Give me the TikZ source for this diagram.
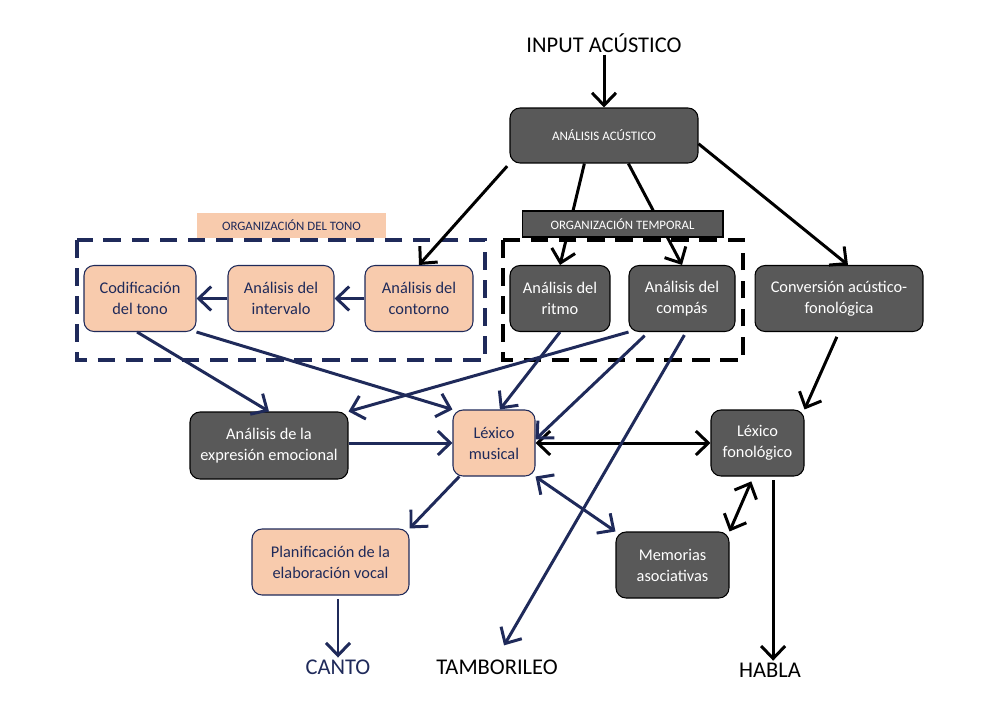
\documentclass[tikz,border=0pt]{standalone}
\usepackage{fontspec}
\setmainfont{Carlito}
\usetikzlibrary{arrows.meta}
\definecolor{navy}{RGB}{31,42,90}
\definecolor{darkbox}{RGB}{89,89,89}
\definecolor{peach}{RGB}{248,203,173}

\begin{document}
\begin{tikzpicture}[x=0.02cm, y=-0.02cm, >={Straight Barb[length=2.5mm,width=4.8mm]},
  dark/.style={draw=black, fill=darkbox, text=white, rounded corners=2mm, line width=0.6pt,
    align=center, inner sep=0pt, minimum height=1.32cm, font=\fontsize{9.3}{12}\selectfont},
  light/.style={draw=navy, fill=peach, text=navy, rounded corners=2mm, line width=0.6pt,
    align=center, inner sep=0pt, minimum height=1.32cm, font=\fontsize{9.3}{12}\selectfont},
  header/.style={inner sep=0pt, font=\fontsize{7.3}{8}\selectfont},
  outtext/.style={inner sep=1pt, font=\fontsize{12.8}{14}\selectfont},
  blk/.style={->, line width=1.7pt},
  nvy/.style={->, line width=1.7pt, draw=navy},
  frame/.style={line width=2.6pt, dash pattern=on 10pt off 6pt}]
  \useasboundingbox (0,0) rectangle (1000,710);

  % entrada y analisis acustico
  \node[outtext] (input) at (604,43) {INPUT ACÚSTICO};
  \node[dark, minimum width=3.76cm, minimum height=1.1cm, font=\fontsize{7.4}{8}\selectfont]
    (acustico) at (604,135.5) {ANÁLISIS ACÚSTICO};
  \draw[blk] (input.south) -- (acustico.north);

  % organizacion temporal (las flechas pasan por debajo del rotulo)
  \draw[frame] (503,240) rectangle (743,360);
  \node[dark, minimum width=2cm] (ritmo) at (560,298.5) {Análisis del\\ritmo};
  \node[dark, minimum width=2.12cm] (compas) at (682,298.5) {Análisis del\\compás};
  \draw[blk] (acustico.235) -- (ritmo.north);
  \draw[blk] (acustico.-49) -- (compas.north);
  \node[header, draw=black, fill=darkbox, text=white, line width=0.6pt,
    minimum width=4.02cm, minimum height=0.52cm] (temporal) at (622.5,224) {ORGANIZACIÓN TEMPORAL};

  % organizacion del tono
  \node[header, fill=peach, text=navy, minimum width=3.78cm, minimum height=0.5cm]
    (tono) at (291.5,225.5) {ORGANIZACIÓN DEL TONO};
  \draw[frame, navy] (77,240) rectangle (485,360);
  \node[light, minimum width=2.24cm] (codif) at (140,298.5) {Codificación\\del tono};
  \node[light, minimum width=2.12cm] (intervalo) at (281,298.5) {Análisis del\\intervalo};
  \node[light, minimum width=2.16cm] (contorno) at (419,298.5) {Análisis del\\contorno};

  % conversion y lexicos
  \node[dark, minimum width=3.36cm] (conversion) at (839,298.5) {Conversión acústico-\\fonológica};
  \node[dark, minimum width=3.16cm, minimum height=1.34cm] (emocional) at (269,445.5)
    {Análisis de la\\expresión emocional};
  \node[light, minimum width=1.64cm] (lexmus) at (494,443) {Léxico\\musical};
  \node[dark, minimum width=1.86cm] (lexfon) at (757.5,443) {Léxico\\fonológico};
  \node[light, minimum width=3.14cm] (planif) at (330.5,562) {Planificación de la\\elaboración vocal};
  \node[dark, minimum width=2.26cm] (memorias) at (672.5,565) {Memorias\\asociativas};

  % salidas
  \node[outtext, text=navy] (canto) at (338,667) {CANTO};
  \node[outtext] (tambor) at (497,667) {TAMBORILEO};
  \node[outtext] (habla) at (770,670) {HABLA};

  % flechas negras
  \draw[blk, shorten <=2pt] (acustico.south west) -- (contorno.north);
  \draw[blk] (acustico.-5) -- (conversion.75);
  \draw[blk, shorten <=3pt] (conversion.south) -- (lexfon.north east);
  \draw[blk, <->] (lexmus.east) -- (lexfon.west);
  \draw[blk, <->, shorten <=3pt] (lexfon.263) -- (memorias.north east);
  \draw[blk, shorten <=2pt] (lexfon.295) -- (lexfon.295 |- habla.north);

  % flechas azules
  \draw[nvy] (contorno.west) -- (intervalo.east);
  \draw[nvy] (intervalo.west) -- (codif.east);
  \draw[nvy] (codif.265) -- (emocional.north);
  \draw[nvy] (codif.south east) -- (lexmus.north west);
  \draw[nvy] (compas.south west) -- (emocional.north east);
  \draw[nvy] (ritmo.south) -- (lexmus.80);
  \draw[nvy, shorten <=3pt] (compas.225) -- (lexmus.5);
  \draw[nvy, shorten <=2pt, shorten >=8pt] (compas.-83) -- (tambor.north);
  \draw[nvy] (lexmus.west -| emocional.east) -- (lexmus.west);
  \draw[nvy] (lexmus.-136) -- (planif.north east);
  \draw[nvy, <->] (lexmus.south east) -- (memorias.north west);
  \draw[nvy, shorten <=2pt] (planif.south -| canto) -- (canto.north);
\end{tikzpicture}
\end{document}
